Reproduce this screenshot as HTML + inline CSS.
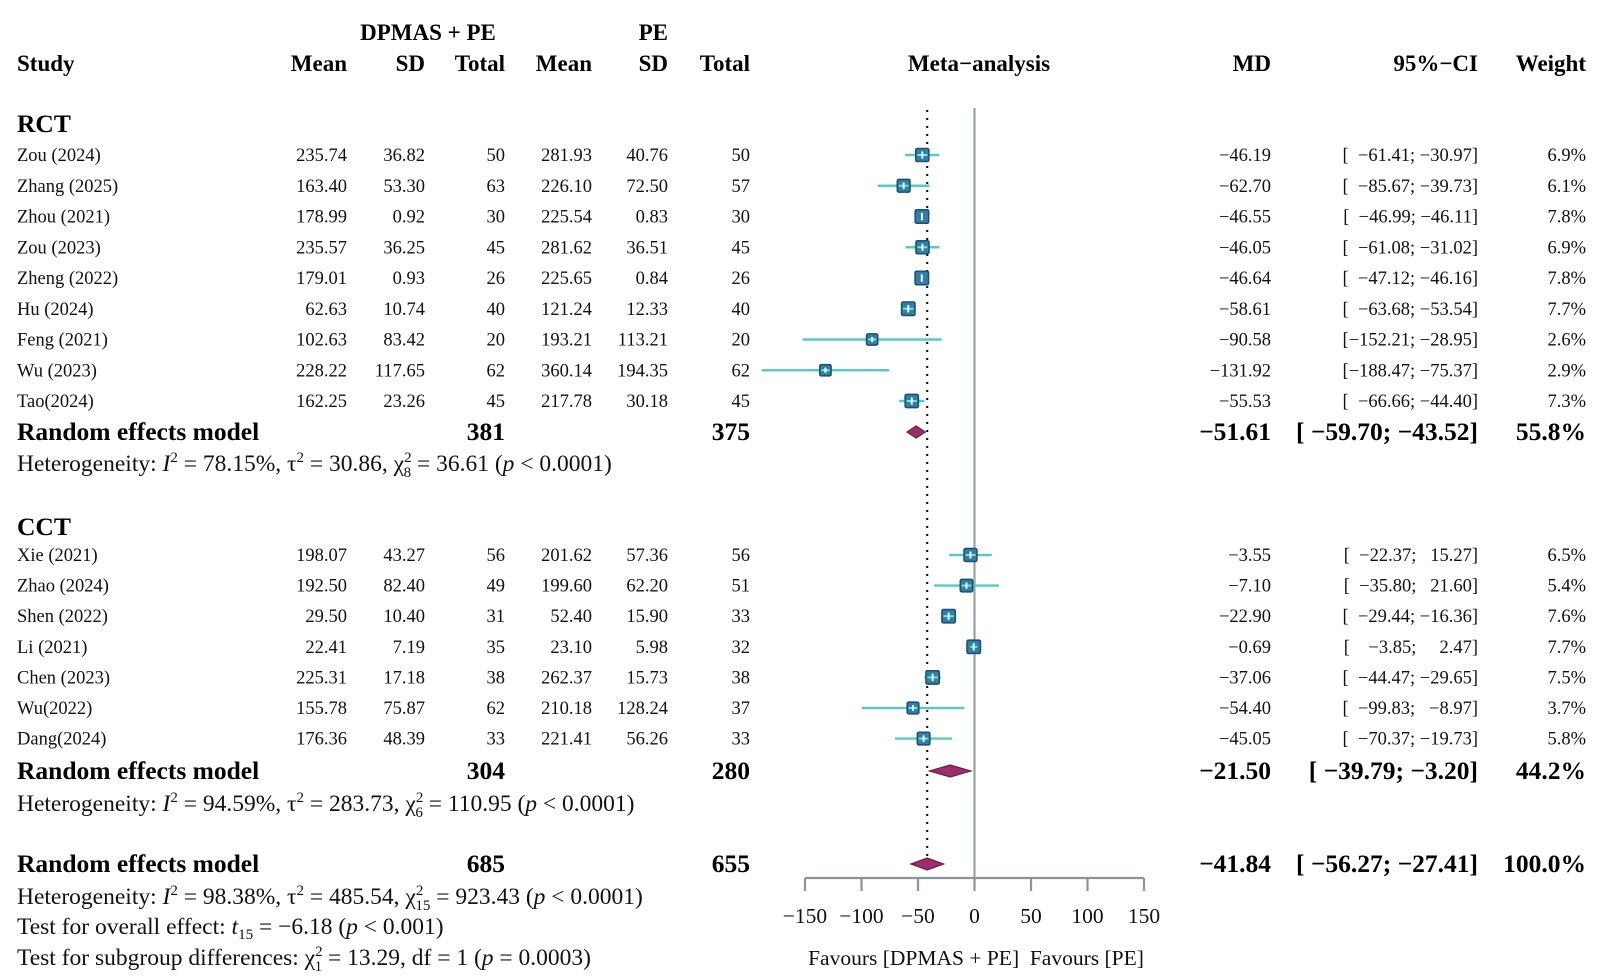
<!DOCTYPE html>
<html><head><meta charset="utf-8"><style>
body{margin:0;background:#fff;}
svg{display:block;font-family:"Liberation Serif",serif;}
.t{font-size:18.5px;fill:#111;}
.b{font-size:25.5px;font-weight:bold;fill:#000;}
.h{font-size:23px;font-weight:bold;fill:#000;}
.r{font-size:23.5px;fill:#111;}
.f{font-size:21.5px;fill:#111;}
</style></head><body>
<svg id="plot" width="1599" height="978" viewBox="0 0 1599 978">
<g id="hdr">
<text class="h" x="428" y="40" text-anchor="middle">DPMAS + PE</text>
<text class="h" x="668" y="40" text-anchor="end">PE</text>
<text class="h" x="17" y="71">Study</text>
<text class="h" x="347" y="71" text-anchor="end">Mean</text>
<text class="h" x="425" y="71" text-anchor="end">SD</text>
<text class="h" x="505" y="71" text-anchor="end">Total</text>
<text class="h" x="592" y="71" text-anchor="end">Mean</text>
<text class="h" x="668" y="71" text-anchor="end">SD</text>
<text class="h" x="750" y="71" text-anchor="end">Total</text>
<text class="h" x="979" y="71" text-anchor="middle">Meta−analysis</text>
<text class="h" x="1271" y="71" text-anchor="end">MD</text>
<text class="h" x="1478" y="71" text-anchor="end">95%−CI</text>
<text class="h" x="1586" y="71" text-anchor="end">Weight</text>
<text class="b" x="17" y="132">RCT</text>
<text class="b" x="17" y="535">CCT</text>
</g>
<g id="rows"></g>
<g id="axis"></g>
<g id="marks"></g>
<g id="foot">
<text class="r" x="17" y="471">Heterogeneity: <tspan font-style="italic">I</tspan><tspan dy="-9" font-size="15">2</tspan><tspan dy="9"> = 78.15%, τ</tspan><tspan dy="-9" font-size="15">2</tspan><tspan dy="9"> = 30.86, χ</tspan><tspan dy="-9" font-size="15">2</tspan><tspan dx="-8" dy="15" font-size="15">8</tspan><tspan dy="-6"> = 36.61 (</tspan><tspan font-style="italic">p</tspan> &lt; 0.0001)</text>
<text class="r" x="17" y="811">Heterogeneity: <tspan font-style="italic">I</tspan><tspan dy="-9" font-size="15">2</tspan><tspan dy="9"> = 94.59%, τ</tspan><tspan dy="-9" font-size="15">2</tspan><tspan dy="9"> = 283.73, χ</tspan><tspan dy="-9" font-size="15">2</tspan><tspan dx="-8" dy="15" font-size="15">6</tspan><tspan dy="-6"> = 110.95 (</tspan><tspan font-style="italic">p</tspan> &lt; 0.0001)</text>
<text class="r" x="17" y="904">Heterogeneity: <tspan font-style="italic">I</tspan><tspan dy="-9" font-size="15">2</tspan><tspan dy="9"> = 98.38%, τ</tspan><tspan dy="-9" font-size="15">2</tspan><tspan dy="9"> = 485.54, χ</tspan><tspan dy="-9" font-size="15">2</tspan><tspan dx="-8" dy="15" font-size="15">15</tspan><tspan dy="-6"> = 923.43 (</tspan><tspan font-style="italic">p</tspan> &lt; 0.0001)</text>
<text class="r" x="17" y="934">Test for overall effect: <tspan font-style="italic">t</tspan><tspan dy="5" font-size="15">15</tspan><tspan dy="-5"> = −6.18 (</tspan><tspan font-style="italic">p</tspan> &lt; 0.001)</text>
<text class="r" x="17" y="965">Test for subgroup differences: χ<tspan dy="-9" font-size="15">2</tspan><tspan dx="-8" dy="15" font-size="15">1</tspan><tspan dy="-6"> = 13.29, df = 1 (</tspan><tspan font-style="italic">p</tspan> = 0.0003)</text>
<text class="f" x="976" y="965" text-anchor="middle" xml:space="preserve">Favours [DPMAS + PE]  Favours [PE]</text>
</g>
</svg>
<script>
const studies=["Zou (2024)","Zhang (2025)","Zhou (2021)","Zou (2023)","Zheng (2022)","Hu (2024)","Feng (2021)","Wu (2023)","Tao(2024)","Xie (2021)","Zhao (2024)","Shen (2022)","Li (2021)","Chen (2023)","Wu(2022)","Dang(2024)"];
const group=[0,0,0,0,0,0,0,0,0,1,1,1,1,1,1,1];
const meanE=["235.74","163.40","178.99","235.57","179.01","62.63","102.63","228.22","162.25","198.07","192.50","29.50","22.41","225.31","155.78","176.36"];
const sdE=["36.82","53.30","0.92","36.25","0.93","10.74","83.42","117.65","23.26","43.27","82.40","10.40","7.19","17.18","75.87","48.39"];
const nE=[50,63,30,45,26,40,20,62,45,56,49,31,35,38,62,33];
const meanC=["281.93","226.10","225.54","281.62","225.65","121.24","193.21","360.14","217.78","201.62","199.60","52.40","23.10","262.37","210.18","221.41"];
const sdC=["40.76","72.50","0.83","36.51","0.84","12.33","113.21","194.35","30.18","57.36","62.20","15.90","5.98","15.73","128.24","56.26"];
const nC=[50,57,30,45,26,40,20,62,45,56,51,33,32,38,37,33];
const md=[-46.19,-62.70,-46.55,-46.05,-46.64,-58.61,-90.58,-131.92,-55.53,-3.55,-7.10,-22.90,-0.69,-37.06,-54.40,-45.05];
const lo=[-61.41,-85.67,-46.99,-61.08,-47.12,-63.68,-152.21,-188.47,-66.66,-22.37,-35.80,-29.44,-3.85,-44.47,-99.83,-70.37];
const hi=[-30.97,-39.73,-46.11,-31.02,-46.16,-53.54,-28.95,-75.37,-44.40,15.27,21.60,-16.36,2.47,-29.65,-8.97,-19.73];
const weight=[6.9,6.1,7.8,6.9,7.8,7.7,2.6,2.9,7.3,6.5,5.4,7.6,7.7,7.5,3.7,5.8];
const sumLabel=["RCT","CCT","Overall"];
const sumMd=[-51.61,-21.50,-41.84];
const sumLo=[-59.70,-39.79,-56.27];
const sumHi=[-43.52,-3.20,-27.41];
const sumW=["55.8%","44.2%","100.0%"];
const sumNE=[381,304,685];
const sumNC=[375,280,655];
const ticks=[-150,-100,-50,0,50,100,150];

const NS="http://www.w3.org/2000/svg";
const X0=974.5, PX=1.13;
const xs=v=>X0+v*PX;
const rowY=i=>group[i]===0?155+i*30.75:555+(i-9)*30.6;
const sumY=[432,771,864];
function mk(tag,attrs,parent,txt){const e=document.createElementNS(NS,tag);for(const k in attrs)e.setAttribute(k,attrs[k]);if(txt!==undefined)e.textContent=txt;parent.appendChild(e);return e;}
const fmt=v=>(v<0?"−":"")+Math.abs(v).toFixed(2);
function ci(a,b){let s1=fmt(a),s2=fmt(b);s1=s1.padStart(7,"\u2007");s2=s2.padStart(6,"\u2007");return "["+s1+"; "+s2+"]";}
function ciB(a,b){let s1=fmt(a),s2=fmt(b);return "[ "+s1+"; "+(s2.length<6?" ":"")+s2+"]";}
const rows=document.getElementById('rows');
studies.forEach((s,i)=>{
  const y=rowY(i)+6;
  const g=mk('g',{},rows);
  
  
  mk('text',{class:'t',x:17,y:y},g,s);
  const cols=[[347,meanE[i]],[425,sdE[i]],[505,nE[i]],[592,meanC[i]],[668,sdC[i]],[750,nC[i]],[1271,fmt(md[i])],[1478,ci(lo[i],hi[i])],[1586,weight[i].toFixed(1)+"%"]];
  cols.forEach(c=>mk('text',{class:'t',x:c[0],y:y,'text-anchor':'end','xml:space':'preserve'},g,String(c[1])));
});
sumLabel.forEach((l,k)=>{
  const y=sumY[k]+8;
  const g=mk('g',{},rows);
  
  
  mk('text',{class:'b',x:17,y:y},g,"Random effects model");
  mk('text',{class:'b',x:505,y:y,'text-anchor':'end'},g,String(sumNE[k]));
  mk('text',{class:'b',x:750,y:y,'text-anchor':'end'},g,String(sumNC[k]));
  mk('text',{class:'b',x:1271,y:y,'text-anchor':'end'},g,fmt(sumMd[k]));
  mk('text',{class:'b',x:1478,y:y,'text-anchor':'end','xml:space':'preserve'},g,ciB(sumLo[k],sumHi[k]));
  mk('text',{class:'b',x:1586,y:y,'text-anchor':'end'},g,sumW[k]);
});
const ax=document.getElementById('axis');
const AY=878;
mk('line',{x1:xs(0),x2:xs(0),y1:108,y2:AY,stroke:'#9aa3a3','stroke-width':2.2},ax);
mk('line',{x1:xs(sumMd[2]),x2:xs(sumMd[2]),y1:110,y2:AY-20,stroke:'#000','stroke-width':2,'stroke-dasharray':'2,6'},ax);
mk('line',{x1:xs(ticks[0]),x2:xs(ticks[ticks.length-1]),y1:AY,y2:AY,stroke:'#8a9696','stroke-width':2.2},ax);
ticks.forEach(t=>{
  const tk=mk('line',{x1:xs(t),x2:xs(t),y1:AY,y2:AY+13,stroke:'#8a9696','stroke-width':2.2},ax);
  
  
  const lb=mk('text',{class:'f',x:xs(t),y:AY+45,'text-anchor':'middle',fill:'#333'},ax,(t<0?"−":"")+Math.abs(t));
  
  
});
const mg=document.getElementById('marks');
studies.forEach((s,i)=>{
  const y=rowY(i);
  const ln=mk('line',{x1:xs(lo[i]),x2:xs(hi[i]),y1:y,y2:y,stroke:'#5cc8c4','stroke-width':2.4},mg);
  
  
  const sz=10+weight[i]*0.45;
  const r=mk('rect',{x:xs(md[i])-sz/2,y:y-sz/2,width:sz,height:sz,fill:'#2f7fa6',stroke:'#1d4f6e','stroke-width':1.5,rx:1.5},mg);
  
  
  const w=Math.min(xs(hi[i])-xs(lo[i]),sz-3)/2;
  mk('line',{x1:xs(md[i])-w,x2:xs(md[i])+w,y1:y,y2:y,stroke:'#7fe0da','stroke-width':2},mg);
  mk('line',{x1:xs(md[i]),x2:xs(md[i]),y1:y-sz/2+3,y2:y+sz/2-3,stroke:'#e8f8f8','stroke-width':2},mg);
});
sumMd.forEach((m,k)=>{
  const y=sumY[k];
  const d=mk('polygon',{points:[xs(sumLo[k])+','+y,xs(m)+','+(y-6),xs(sumHi[k])+','+y,xs(m)+','+(y+6)].join(' '),fill:'#9b2f6b',stroke:'#6e1e4c','stroke-width':1.2},mg);
  
  
});
</script>
</body></html>
